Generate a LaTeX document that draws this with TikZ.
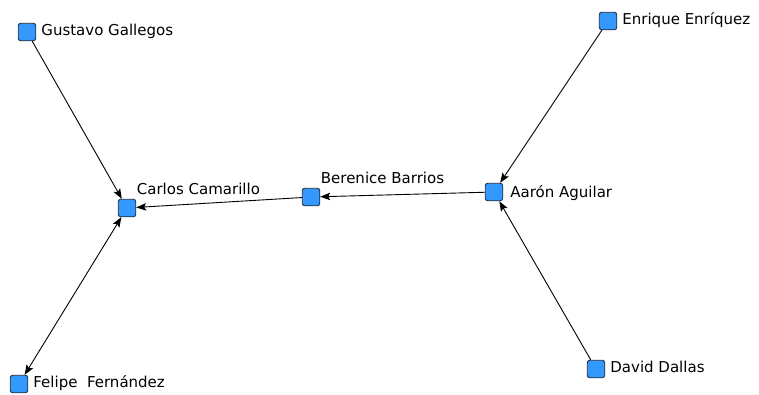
\documentclass[tikz,border=0pt]{standalone}
\usepackage{fontspec}
\setmainfont{DejaVu Sans}
\usetikzlibrary{arrows.meta,positioning}
\definecolor{actorblue}{RGB}{51,153,255}
\definecolor{actoredge}{RGB}{35,45,60}

\begin{document}
\begin{tikzpicture}[x=1pt, y=-1pt,
    actor/.style={draw=actoredge, fill=actorblue, rectangle, rounded corners=2.5pt, line width=0.9pt, minimum size=17.5pt, inner sep=0pt},
    lbl/.style={inner sep=0pt, font=\fontsize{15}{17}\selectfont, text=black},
    rlabel/.style={label={[lbl, anchor=base west, xshift=5pt, yshift=-3.5pt]east:#1}},
    ulabel/.style={label={[lbl, anchor=base west, xshift=0.5pt, yshift=4.5pt]north east:#1}},
    tie/.style={-{Stealth[length=10pt, width=7.5pt, inset=2pt]}, line width=0.9pt, black},
    twotie/.style={{Stealth[length=10pt, width=7.5pt, inset=2pt]}-{Stealth[length=10pt, width=7.5pt, inset=2pt]}, line width=0.9pt, black}]
        \useasboundingbox (0,0) rectangle (759,394);

        % Left side
        \node[actor, rlabel=Gustavo Gallegos] (gustavo) at (27,32) {};
        \node[actor, ulabel=Carlos Camarillo] (carlos) at (127,208) {};
        \node[actor, rlabel={Felipe\ \ Fernández}] (felipe) at (19,384) {};

        % Middle and right side
        \node[actor, ulabel=Berenice Barrios] (berenice) at (311,197) {};
        \node[actor, label={[lbl, anchor=base west, xshift=7pt, yshift=-5pt]east:Aarón Aguilar}] (aaron) at (494,192) {};
        \node[actor, rlabel=Enrique Enríquez] (enrique) at (608,21) {};
        \node[actor, rlabel=David Dallas] (david) at (596,369) {};

        % Connectors
        \draw[tie] (gustavo) -- (carlos);
        \draw[twotie] (felipe) -- (carlos);
        \draw[tie] (berenice) -- (carlos);
        \draw[tie] (aaron) -- (berenice);
        \draw[tie] (enrique) -- (aaron);
        \draw[tie] (david) -- (aaron);
    \end{tikzpicture}
\end{document}
